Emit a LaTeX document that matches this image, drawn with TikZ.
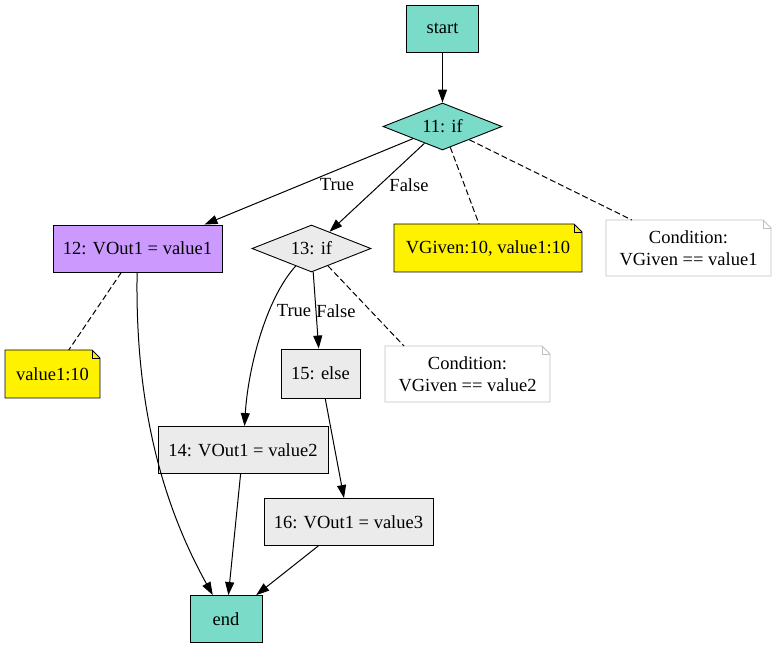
\documentclass[tikz,border=0pt]{standalone}
\usepackage{fontspec}
\setmainfont{Liberation Serif}
\usetikzlibrary{shapes.geometric,arrows.meta}
\definecolor{termteal}{RGB}{121,219,200}
\definecolor{assignpurple}{RGB}{204,153,255}
\definecolor{stmtgray}{RGB}{235,235,235}
\definecolor{notegray}{RGB}{192,192,192}
\begin{document}
\begin{tikzpicture}[x=1pt,y=-1pt,
	every node/.style={font=\fontsize{18.5}{22}\selectfont},
	stmtbox/.style={draw, rectangle, line width=0.9pt, fill=stmtgray, minimum height=47pt, inner sep=0pt},
	termbox/.style={stmtbox, fill=termteal, minimum width=72pt},
	condbox/.style={draw, diamond, aspect=2.5, line width=0.9pt, minimum width=119pt, minimum height=47pt, inner sep=0pt},
	notebox/.style={rectangle, inner sep=0pt, outer sep=0pt, align=center},
	flowarrow/.style={-{Triangle[length=13pt,width=9pt]}, line width=1pt},
	notelink/.style={dash pattern=on 6pt off 3pt, line width=1pt},
	edgelbl/.style={inner sep=1pt}]
	\useasboundingbox (0,0) rectangle (777,649);
	% blocks
	\node[termbox] (start) at (442.5,28.5) {start};
	\node[condbox, fill=termteal] (c11) at (442.5,126.5) {11: if};
	\node[stmtbox, fill=assignpurple, minimum width=169pt] (s12) at (137.5,248.5) {12: VOut1 = value1};
	\node[condbox, fill=stmtgray] (c13) at (311.5,248.5) {13: if};
	\node[stmtbox, minimum width=79pt, minimum height=49pt] (s15) at (320.5,373.5) {15: else};
	\node[stmtbox, minimum width=170pt] (s14) at (243,450) {14: VOut1 = value2};
	\node[stmtbox, minimum width=169pt] (s16) at (348.5,522) {16: VOut1 = value3};
	\node[termbox] (exit) at (226,619) {end};
	% notes
	\node[notebox, fill=yellow, minimum width=95pt, minimum height=48pt] (v12) at (52.5,374) {value1:10};
	\node[notebox, fill=yellow, minimum width=188pt, minimum height=48pt] (v11) at (488,248) {VGiven:10, value1:10};
	\node[notebox, fill=white, minimum width=165pt, minimum height=56pt] (k11) at (688.5,248) {Condition:\\VGiven == value1};
	\node[notebox, fill=white, minimum width=165pt, minimum height=56pt] (k13) at (467.5,374) {Condition:\\VGiven == value2};
	\foreach \n/\c in {v12/black, v11/black, k11/notegray, k13/notegray}{
		\fill[white] ([xshift=-8pt]\n.north east) -- ([yshift=-8pt]\n.north east) -- ([shift={(1pt,1pt)}]\n.north east) -- cycle;
		\draw[draw=\c, line width=0.9pt] (\n.south west) -- (\n.north west) -- ([xshift=-8pt]\n.north east)
			-- ([yshift=-8pt]\n.north east) -- (\n.south east) -- cycle;
		\draw[draw=\c, line width=0.9pt] ([xshift=-8pt]\n.north east) -- ++(0,8) -- ++(8,0);
	}
	% edges
	\draw[flowarrow] (start) -- (c11);
	\draw[flowarrow] (c11) -- ([xshift=67pt]s12.north);
	\draw[flowarrow] (c11) -- (c13);
	\draw[notelink] (c11) -- (v11);
	\draw[notelink] (c11) -- (k11);
	\draw[notelink] (s12) -- (v12);
	\draw[flowarrow] (s12) .. controls (135,400) and (160,500) .. (exit);
	\draw[flowarrow] (c13) .. controls (265,300) and (248,370) .. (s14);
	\draw[flowarrow] (c13) -- (s15);
	\draw[notelink] (c13) -- ([xshift=-63.5pt]k13.north);
	\draw[flowarrow] (s15) -- (s16);
	\draw[flowarrow] (s14) -- (exit);
	\draw[flowarrow] (s16) -- (exit);
	% labels
	\node[edgelbl] (t11) at (337,185) {True};
	\node[edgelbl] (f11) at (409,185) {False};
	\node[edgelbl] (t13) at (294,311) {True};
	\node[edgelbl] (f13) at (336,311) {False};
\end{tikzpicture}
\end{document}
